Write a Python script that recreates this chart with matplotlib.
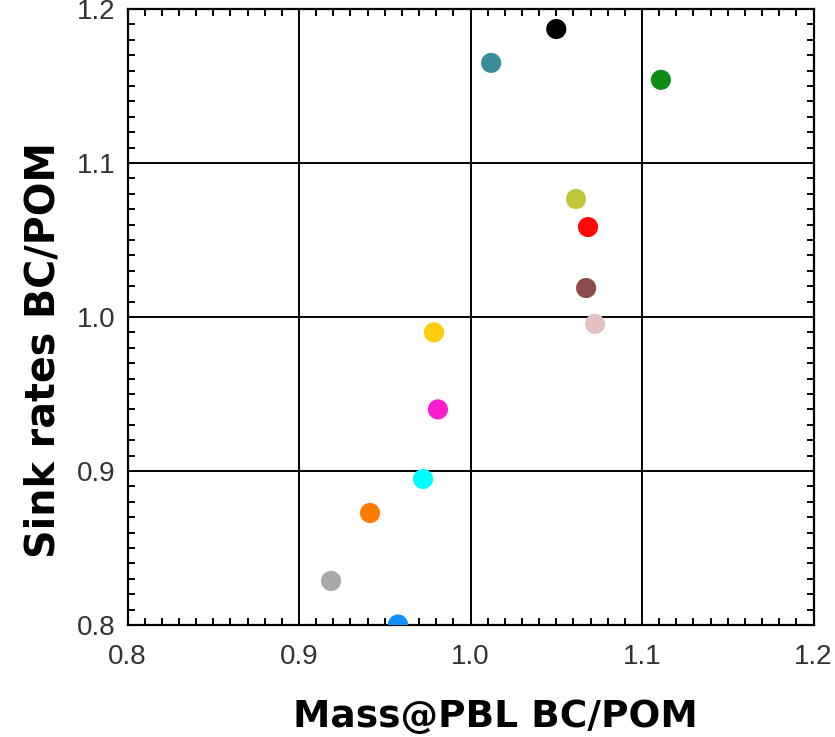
import matplotlib
matplotlib.use('Agg')
import matplotlib.pyplot as plt
from matplotlib.ticker import MultipleLocator

# BC/POM ratios per model: mass in the PBL vs. sink rates
mass_pbl = [1.050, 1.012, 1.111, 1.0615, 1.0685, 1.0674, 1.0726,
            0.9787, 0.981, 0.9723, 0.9414, 0.9187, 0.9577]
sink_rates = [1.187, 1.165, 1.154, 1.0766, 1.0584, 1.0188, 0.9955,
              0.990, 0.940, 0.8948, 0.8727, 0.8286, 0.8003]
colors = ['#000000', '#3a8c9a', '#118a1a', '#c4c43a', '#ff0a0a', '#8c4c48', '#e2c2c2',
          '#ffcc10', '#ff1ccc', '#00ffff', '#ff7a00', '#a8a8a8', '#1290ff']

x_ticks = [0.8, 0.9, 1.0, 1.1, 1.2]
y_ticks = [0.8, 0.9, 1.0, 1.1, 1.2]

fig = plt.figure(figsize=(8.35, 7.37), dpi=100)
ax = fig.add_axes([0.1527, 0.152, 0.8216, 0.8358])

ax.set_xlim(0.8, 1.2)
ax.set_ylim(0.8, 1.2)

for v in x_ticks[1:-1]:
    ax.axvline(v, color='black', lw=1.4, zorder=1)
for v in y_ticks[1:-1]:
    ax.axhline(v, color='black', lw=1.4, zorder=1)

ax.scatter(mass_pbl, sink_rates, s=210, c=colors, edgecolors='none', zorder=3)

ax.set_xticks(x_ticks)
ax.set_yticks(y_ticks)
ax.set_xticklabels(['%.1f' % v for v in x_ticks])
ax.set_yticklabels(['%.1f' % v for v in y_ticks])
ax.xaxis.set_minor_locator(MultipleLocator(0.01))
ax.yaxis.set_minor_locator(MultipleLocator(0.01))
ax.tick_params(which='both', direction='in', top=True, right=True,
               color='black', width=1.4)
ax.tick_params(which='major', length=0)
ax.tick_params(which='minor', length=5)
ax.tick_params(axis='x', which='major', pad=14, labelsize=20, labelcolor='#333333')
ax.tick_params(axis='y', which='major', pad=9, labelsize=20, labelcolor='#333333')
for lab in ax.get_xticklabels() + ax.get_yticklabels():
    lab.set_family('Liberation Sans')

for sp in ax.spines.values():
    sp.set_linewidth(1.6)
    sp.set_color('black')

fig.text(0.593, 0.027, 'Mass@PBL BC/POM', ha='center', va='center',
         fontsize=27, fontweight='bold', family='DejaVu Sans')
fig.text(0.0515, 0.525, 'Sink rates BC/POM', ha='center', va='center', rotation=90,
         fontsize=28.5, fontweight='bold', family='DejaVu Sans')

fig.savefig('out.png', dpi=100)
